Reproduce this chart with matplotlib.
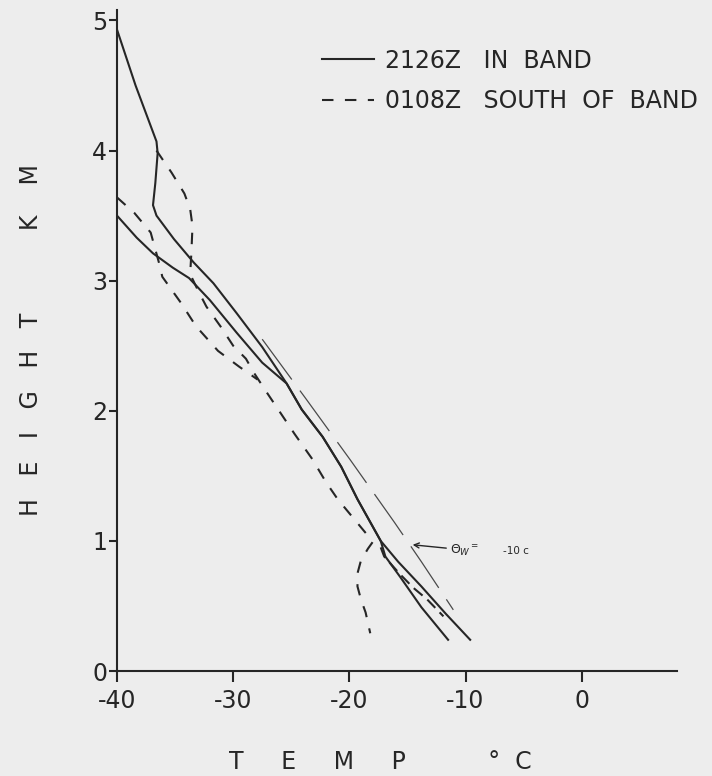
import matplotlib.pyplot as plt

plt.rcParams['font.family'] = 'DejaVu Sans'
plt.rcParams['axes.unicode_minus'] = False

# 2126Z in band, branch from the top (deg C, km)
band_upper_t = [-40.0, -38.4, -36.6, -36.5, -36.7, -36.9, -36.6, -35.1, -33.4, -31.7,
                -29.7, -27.5, -25.4, -24.1, -22.3, -20.7, -19.3, -17.3, -15.8, -13.8,
                -11.7, -9.6]
band_upper_h = [4.93, 4.50, 4.07, 3.98, 3.75, 3.58, 3.50, 3.32, 3.14, 2.98,
                2.75, 2.49, 2.21, 2.01, 1.80, 1.57, 1.32, 1.00, 0.84, 0.65,
                0.44, 0.24]

# 2126Z in band, branch from the axis at 3.5 km
band_lower_t = [-40.0, -38.3, -36.9, -35.2, -33.8, -32.0, -29.7, -27.5, -25.4, -24.1,
                -22.3, -20.7, -19.3, -17.3, -16.9, -15.6, -13.8, -11.5]
band_lower_h = [3.50, 3.33, 3.21, 3.10, 3.02, 2.85, 2.60, 2.37, 2.21, 2.01,
                1.80, 1.57, 1.32, 1.00, 0.88, 0.72, 0.49, 0.24]

# 0108Z south of band
south_upper_t = [-36.6, -35.3, -34.2, -33.7, -33.5, -33.6, -33.7, -33.0, -32.3, -31.1,
                 -30.0, -28.9, -28.2, -27.1, -25.9, -24.7, -23.2, -22.0, -21.0, -19.7,
                 -18.4, -18.0, -18.4, -19.0, -19.3, -19.3, -19.0, -18.6, -18.2]
south_upper_h = [4.00, 3.83, 3.67, 3.55, 3.42, 3.21, 3.05, 2.92, 2.80, 2.65,
                 2.50, 2.40, 2.29, 2.14, 1.98, 1.82, 1.63, 1.45, 1.32, 1.18,
                 1.04, 0.99, 0.94, 0.85, 0.75, 0.65, 0.55, 0.45, 0.29]

south_lower_t = [-40.0, -38.5, -37.1, -36.3, -36.1, -34.5, -33.2, -31.3, -29.5, -27.9]
south_lower_h = [3.64, 3.52, 3.37, 3.11, 3.03, 2.83, 2.65, 2.46, 2.34, 2.24]

south_low_t = [-17.3, -17.0, -15.7, -14.5, -13.3, -11.9]
south_low_h = [0.95, 0.88, 0.75, 0.64, 0.55, 0.42]

# moist adiabat theta_w = -10 C
adiabat_t = [-27.5, -23.8, -19.9, -16.1, -13.8, -11.05]
adiabat_h = [2.55, 2.10, 1.62, 1.14, 0.84, 0.47]

x_ticks = [-40, -30, -20, -10, 0]
y_ticks = [0, 1, 2, 3, 4, 5]

ink = '#262626'
bg = '#ededed'

fig = plt.figure(figsize=(7.12, 7.76), dpi=100, facecolor=bg)
ax = fig.add_axes([0.1643, 0.1353, 0.7865, 0.8518], facecolor=bg)

ax.plot(band_upper_t, band_upper_h, color=ink, lw=1.5, label='2126Z   IN  BAND')
ax.plot(band_lower_t, band_lower_h, color=ink, lw=1.5)
ax.plot(south_upper_t, south_upper_h, color=ink, lw=1.5, dashes=(5.5, 5.5),
        label='0108Z   SOUTH  OF  BAND')
ax.plot(south_lower_t, south_lower_h, color=ink, lw=1.5, dashes=(5.5, 5.5))
ax.plot(south_low_t, south_low_h, color=ink, lw=1.5, dashes=(5.5, 3))
ax.plot(adiabat_t, adiabat_h, color='#4a4a4a', lw=0.9, dashes=(40, 11))

# theta_w label with arrow
ax.annotate(r'$\Theta_W$$^{=}$', xy=(-14.55, 0.97), xytext=(-11.3, 0.93),
            fontsize=9, color=ink, va='center', ha='left',
            arrowprops=dict(arrowstyle='->', color=ink, lw=1.0,
                            shrinkA=1, shrinkB=0))
ax.text(-6.8, 0.92, '-10 c', fontsize=7.5, color=ink, va='center', ha='left')

ax.set_xlim(-40, 8.2)
ax.set_ylim(0, 5.08)
ax.set_xticks(x_ticks)
ax.set_yticks(y_ticks)
ax.tick_params(axis='x', length=8, width=1.5, color=ink, labelsize=17, pad=5, labelcolor=ink)
ax.tick_params(axis='y', length=6, width=1.5, color=ink, labelsize=17, pad=1, labelcolor=ink)

for side in ['top', 'right']:
    ax.spines[side].set_visible(False)
for side in ['left', 'bottom']:
    ax.spines[side].set_linewidth(1.5)
    ax.spines[side].set_color(ink)

ax.set_xlabel('T     E     M     P           °  C', fontsize=17, color=ink)
ax.xaxis.set_label_coords(0.47, -0.12)
ax.set_ylabel('H   E   I   G   H   T           K    M', fontsize=17, color=ink)
ax.yaxis.set_label_coords(-0.132, 0.5)

leg = ax.legend(loc='upper left', bbox_to_anchor=(0.366, 0.9415), frameon=False,
                fontsize=17, handlelength=2.2, handletextpad=0.45,
                borderpad=0, borderaxespad=0, labelspacing=0.7)
for t in leg.get_texts():
    t.set_color(ink)

plt.savefig('out.png', dpi=100, facecolor=bg)
